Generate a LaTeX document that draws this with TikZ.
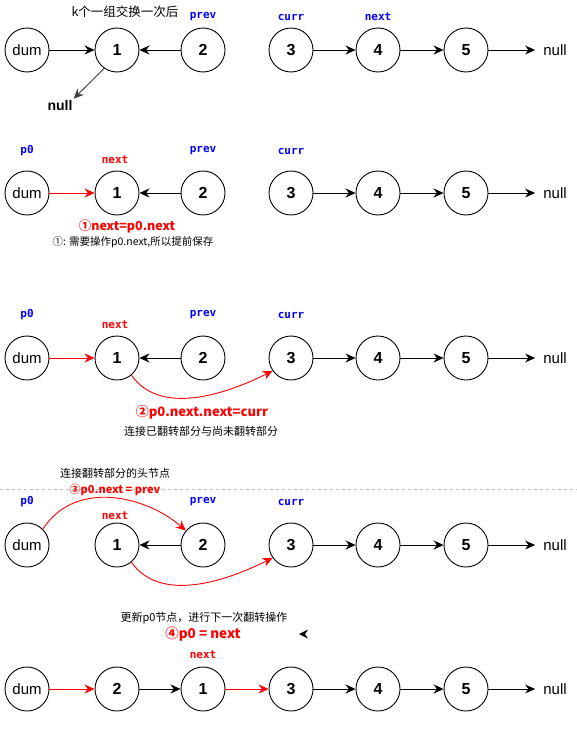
\documentclass[tikz,border=0pt]{standalone}
\usepackage{fontspec}
\setmainfont{Liberation Sans}
\newfontfamily\cjk{Noto Sans CJK SC}
\newfontfamily\lblfont{DejaVu Sans Mono}
\usetikzlibrary{arrows.meta}
\tikzset{
  nd/.style={circle,draw,line width=0.9pt,minimum size=44pt,inner sep=0pt,font=\fontsize{16}{16}\selectfont\bfseries},
  dumnd/.style={circle,draw,line width=0.9pt,minimum size=44pt,inner sep=0pt,font=\fontsize{15}{15}\selectfont},
  nulltxt/.style={inner sep=1pt,inner xsep=8pt,font=\fontsize{15}{15}\selectfont},
  arr/.style={-{Stealth[length=10pt,width=9pt]},line width=0.9pt},
  redarr/.style={arr,red},
  ptr/.style={text=blue,font=\lblfont\bfseries\fontsize{11}{11}\selectfont},
  ptrred/.style={text=red,font=\lblfont\bfseries\fontsize{11}{11}\selectfont},
  note/.style={font=\cjk\fontsize{11}{11}\selectfont},
  rednote/.style={text=red,font=\cjk\bfseries\fontsize{12.5}{12.5}\selectfont},
}
\begin{document}
\begin{tikzpicture}[x=1pt,y=-1pt]
\useasboundingbox (0,0) rectangle (577,736);
% ---------- row 1 ----------
\node[note,font=\cjk\fontsize{12.5}{12.5}\selectfont] (t1) at (125,12) {k个一组交换一次后};
\node[dumnd] (a0) at (27,50) {dum};
\node[nd] (a1) at (117,50) {1};
\node[nd] (a2) at (203,50) {2};
\node[nd] (a3) at (291,50) {3};
\node[nd] (a4) at (378,50) {4};
\node[nd] (a5) at (466,50) {5};
\node[nulltxt] (an) at (555,50) {null};
\node[inner sep=1pt,font=\fontsize{14}{14}\selectfont\bfseries] (an2) at (60,105) {null};
\node[ptr] (ap) at (203,17) {prev};
\node[ptr] (ac) at (291,17) {curr};
\node[ptr] (ax) at (378,17) {next};
\draw[arr] (a0) -- (a1);
\draw[arr] (a2) -- (a1);
\draw[arr] (a3) -- (a4);
\draw[arr] (a4) -- (a5);
\draw[arr] (a5) -- (an);
\draw[arr,black!75] (a1.-125) -- (an2.north east);
% ---------- row 2 ----------
\node[dumnd] (b0) at (27,193) {dum};
\node[nd] (b1) at (117,193) {1};
\node[nd] (b2) at (203,193) {2};
\node[nd] (b3) at (291,193) {3};
\node[nd] (b4) at (378,193) {4};
\node[nd] (b5) at (466,193) {5};
\node[nulltxt] (bn) at (555,193) {null};
\node[ptr] (bp0) at (27,151) {p0};
\node[ptrred] (bx) at (115,160) {next};
\node[ptr] (bp) at (203,151) {prev};
\node[ptr] (bc) at (291,151) {curr};
\node[rednote] (bt) at (127,226) {①next=p0.next};
\node[note,font=\cjk\fontsize{10.5}{10.5}\selectfont] (bt2) at (133,242) {①: 需要操作p0.next,所以提前保存};
\draw[redarr] (b0) -- (b1);
\draw[arr] (b2) -- (b1);
\draw[arr] (b3) -- (b4);
\draw[arr] (b4) -- (b5);
\draw[arr] (b5) -- (bn);
% ---------- row 3 ----------
\node[dumnd] (c0) at (27,358) {dum};
\node[nd] (c1) at (117,358) {1};
\node[nd] (c2) at (203,358) {2};
\node[nd] (c3) at (291,358) {3};
\node[nd] (c4) at (378,358) {4};
\node[nd] (c5) at (466,358) {5};
\node[nulltxt] (cn) at (555,358) {null};
\node[ptr] (cp0) at (27,315) {p0};
\node[ptrred] (cx) at (115,325) {next};
\node[ptr] (cp) at (203,315) {prev};
\node[ptr] (cc) at (291,315) {curr};
\node[rednote,font=\cjk\bfseries\fontsize{13}{13}\selectfont] (ct) at (202,412) {②p0.next.next=curr};
\node[note] (ct2) at (201,431) {连接已翻转部分与尚未翻转部分};
\draw[redarr] (c0) -- (c1);
\draw[arr] (c2) -- (c1);
\draw[redarr] (c1.-50) .. controls +(28,40) and +(-50,25) .. (c3.-145);
\draw[arr] (c3) -- (c4);
\draw[arr] (c4) -- (c5);
\draw[arr] (c5) -- (cn);
% ---------- row 4 ----------
\draw[gray!50,dashed,line width=0.6pt] (0,489) -- (577,489);
\node[note] (dt) at (115,473) {连接翻转部分的头节点};
\node[rednote,font=\cjk\bfseries\fontsize{11}{11}\selectfont] (dt2) at (115,490) {③p0.next = prev};
\node[dumnd] (d0) at (27,545) {dum};
\node[nd] (d1) at (117,545) {1};
\node[nd] (d2) at (203,545) {2};
\node[nd] (d3) at (291,545) {3};
\node[nd] (d4) at (378,545) {4};
\node[nd] (d5) at (466,545) {5};
\node[nulltxt] (dn) at (555,545) {null};
\node[ptr] (dp0) at (27,502) {p0};
\node[ptrred] (dx) at (115,516) {next};
\node[ptr] (dp) at (203,502) {prev};
\node[ptr] (dc) at (291,502) {curr};
\draw[redarr] (d0.45) .. controls +(32,-50) and +(-40,-35) .. (d2.140);
\draw[arr] (d2) -- (d1);
\draw[redarr] (d1.-50) .. controls +(28,40) and +(-50,25) .. (d3.-145);
\draw[arr] (d3) -- (d4);
\draw[arr] (d4) -- (d5);
\draw[arr] (d5) -- (dn);
% ---------- row 5 ----------
\node[note] (et) at (204,618) {更新p0节点，进行下一次翻转操作};
\node[rednote,font=\cjk\bfseries\fontsize{13.5}{13.5}\selectfont] (et2) at (203,634) {④p0 = next};
\fill (299,634) -- (308,629.5) -- (305,634) -- (308,638.5) -- cycle;
\node[ptrred] (ex) at (203,655) {next};
\node[dumnd] (e0) at (27,689) {dum};
\node[nd] (e2) at (117,689) {2};
\node[nd] (e1) at (203,689) {1};
\node[nd] (e3) at (291,689) {3};
\node[nd] (e4) at (378,689) {4};
\node[nd] (e5) at (466,689) {5};
\node[nulltxt] (en) at (555,689) {null};
\draw[redarr] (e0) -- (e2);
\draw[arr] (e2) -- (e1);
\draw[redarr] (e1) -- (e3);
\draw[arr] (e3) -- (e4);
\draw[arr] (e4) -- (e5);
\draw[arr] (e5) -- (en);
\end{tikzpicture}
\end{document}
